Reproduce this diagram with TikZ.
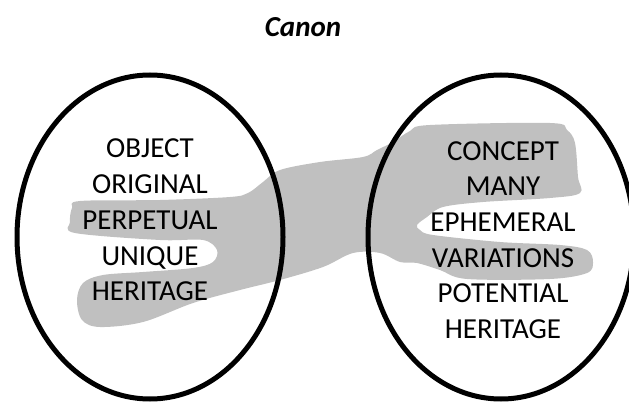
\documentclass[tikz,border=0pt]{standalone}
\usepackage{fontspec}
\setmainfont{Carlito}
\usetikzlibrary{shapes.geometric}
\definecolor{blobgray}{RGB}{192,192,192}

\begin{document}
\begin{tikzpicture}[
    x=1pt, y=-1pt,
    ring/.style={ellipse, draw, line width=5pt, minimum width=266pt, minimum height=324pt, inner sep=0pt},
    words/.style={align=center, font=\fontsize{29}{35.7}\selectfont, inner sep=0pt},
    blob/.style={fill=blobgray}
  ]
  \useasboundingbox (0,0) rectangle (629,403);

  % Shared ground
  \fill[blob] plot[smooth cycle, tension=0.55] coordinates {
    (72,208) (80,201) (160,200) (230,197) (248,193) (263,182) (280,170)
    (320,162) (363,157) (377,150) (393,142) (410,131) (430,125) (550,123)
    (567,130) (575,143) (578,177) (580,193) (550,198) (483,202) (443,207)
    (427,217) (417,225) (420,230) (433,235) (500,242) (560,245) (587,250)
    (593,262) (587,273) (550,279) (467,279) (440,270) (417,263) (400,262)
    (380,253) (353,253) (323,267) (280,280) (240,290) (193,303) (143,322)
    (100,327) (82,320) (77,300) (83,283) (103,275) (143,272) (193,268)
    (213,262) (217,250) (203,240) (160,240) (75,233) (70,222)};

  % Nodes
  \node[words, font=\fontsize{29}{34}\selectfont\bfseries\itshape] (title) at (303,27) {Canon};
  \node[ring] (object) at (150,237) {};
  \node[ring] (concept) at (501,237) {};
  \node[words] (objlist) at (150,220) {OBJECT\\ORIGINAL\\PERPETUAL\\UNIQUE\\HERITAGE};
  \node[words] (conlist) at (503,240) {CONCEPT\\MANY\\EPHEMERAL\\VARIATIONS\\POTENTIAL\\HERITAGE};
\end{tikzpicture}
\end{document}
